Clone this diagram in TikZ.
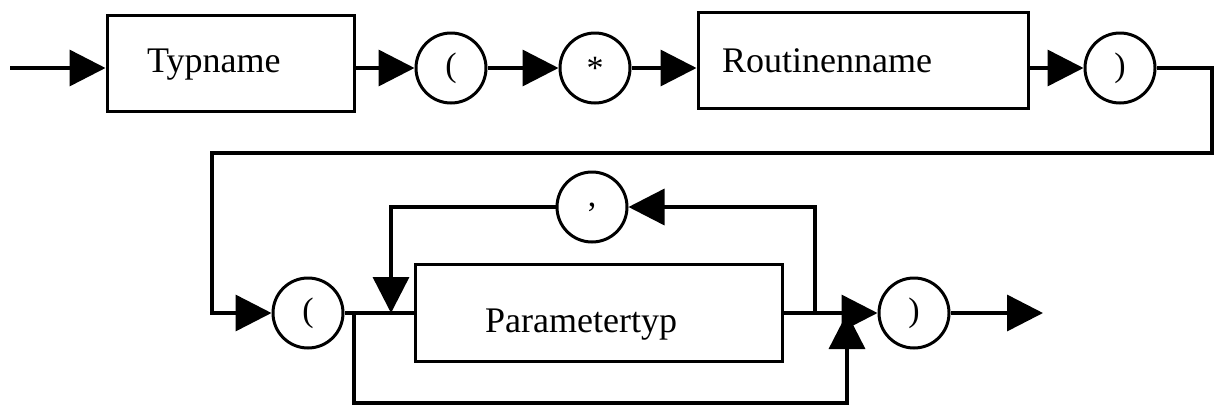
\documentclass[tikz,border=0pt]{standalone}
\usepackage{fontspec}
\setmainfont{Liberation Serif}
\usetikzlibrary{arrows.meta}
\begin{document}
\begin{tikzpicture}[x=1pt,y=-1pt,
  line/.style={line width=3.5pt},
  arr/.style={line, -{Triangle[length=36pt,width=36pt]}},
  box/.style={draw, line width=3pt, rectangle, inner sep=0pt},
  term/.style={draw, line width=3pt, circle, minimum size=70pt, inner sep=0pt,
    font=\fontsize{34}{34}\selectfont},
  label/.style={inner sep=0pt, anchor=base west, font=\fontsize{36}{36}\selectfont}]
\useasboundingbox (0,0) rectangle (1214,405);

% first row
\coordinate (start) at (10,68);
\node[box, minimum width=247pt, minimum height=96pt] (typ) at (230.5,63) {};
\node[label] (typtxt) at (147,72) {Typname};
\node[term] (lpA) at (451,68) {(};
\node[term] (star) at (595,68) {*};
\node[box, minimum width=330pt, minimum height=96pt] (rout) at (863,60) {};
\node[label] (routtxt) at (722,72) {Routinenname};
\node[term] (rpA) at (1120,68) {)};

% second row
\node[term] (lpB) at (308,313) {(};
\node[term] (comma) at (592,207) {,};
\node[box, minimum width=367pt, minimum height=97pt] (par) at (598.5,313) {};
\node[label] (partxt) at (485,332) {Parametertyp};
\node[term] (rpB) at (914,313) {)};

% turn-around and junction points
\coordinate (turnR) at (1212,153);
\coordinate (turnL) at (212,153);
\coordinate (join) at (391,313);
\coordinate (fork) at (354,313);
\coordinate (split) at (815,313);
\coordinate (merge) at (847,313);
\coordinate (stop) at (1043,313);

% connectors of the first row
\draw[arr] (start) -- (typ.west |- start);
\draw[arr] (typ.east |- lpA) -- (lpA.west);
\draw[arr] (lpA.east) -- (star.west);
\draw[arr] (star.east) -- (rout.west |- star);
\draw[arr] (rout.east |- rpA) -- (rpA.west);
\draw[arr] (rpA.east) -| (turnR) -- (turnL) |- (lpB.west);

% connectors of the second row
\draw[line] (lpB.east) -- (par.west);
\draw[arr] (split) |- (comma.east);
\draw[arr] (comma.west) -| (join);
\draw[arr] (fork) -- ++(0,90) -| (merge);
\draw[arr] (par.east) -- (rpB.west);
\draw[arr] (rpB.east) -- (stop);
\end{tikzpicture}
\end{document}
